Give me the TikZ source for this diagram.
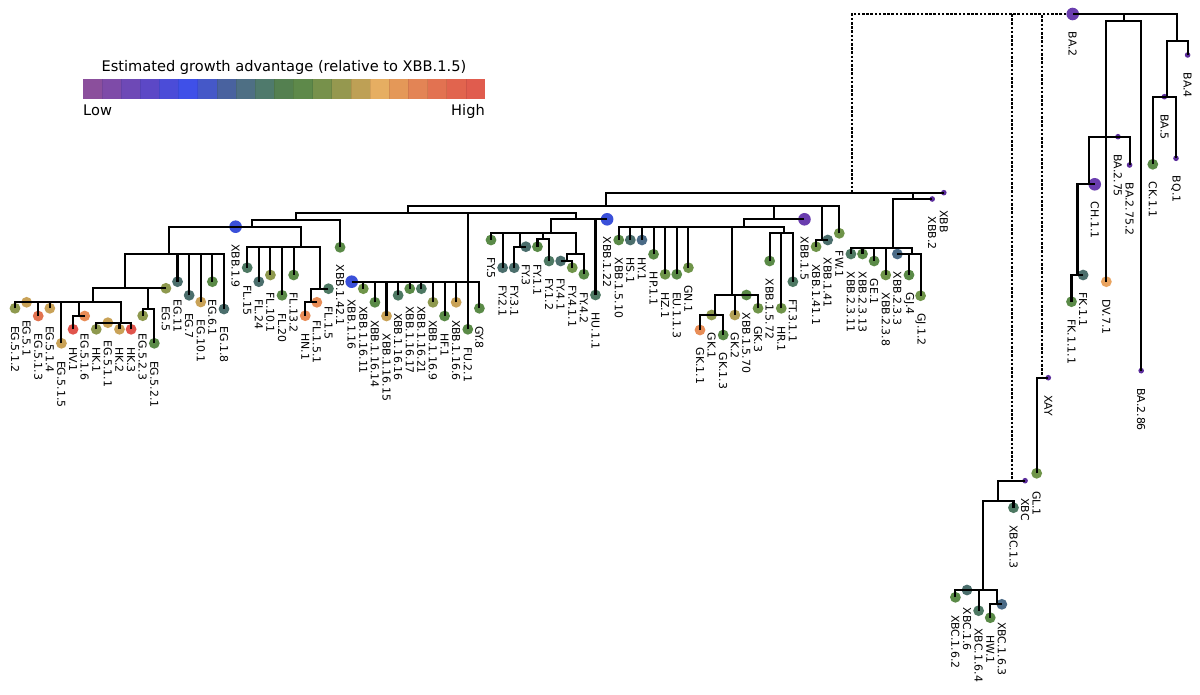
\documentclass[tikz,border=0pt]{standalone}
\usepackage{fontspec}
\setmainfont{DejaVu Sans}
\definecolor{cpurple}{HTML}{6A3DAF}
\definecolor{csmall}{HTML}{5B2D9B}
\definecolor{cblue}{HTML}{3A50D9}
\definecolor{cslate}{HTML}{4B6E6C}
\definecolor{cslateblue}{HTML}{4A6A86}
\definecolor{cslgreen}{HTML}{4D7862}
\definecolor{cgreen}{HTML}{5A8A47}
\definecolor{colgreen}{HTML}{6F9449}
\definecolor{colive}{HTML}{8E994E}
\definecolor{ctan}{HTML}{C9A257}
\definecolor{ctanol}{HTML}{B2A055}
\definecolor{corange}{HTML}{E88D57}
\definecolor{corangeb}{HTML}{E9A35F}
\definecolor{corred}{HTML}{E2734F}
\definecolor{cred}{HTML}{E0544C}
\definecolor{cbA}{HTML}{8B4F9C}
\definecolor{cbB}{HTML}{7E4BA8}
\definecolor{cbC}{HTML}{6E49B6}
\definecolor{cbD}{HTML}{5C48C6}
\definecolor{cbE}{HTML}{4B4CD8}
\definecolor{cbF}{HTML}{3F50E8}
\definecolor{cbG}{HTML}{4558C8}
\definecolor{cbH}{HTML}{49629F}
\definecolor{cbI}{HTML}{4E6F84}
\definecolor{cbJ}{HTML}{4F7A6C}
\definecolor{cbK}{HTML}{548050}
\definecolor{cbL}{HTML}{5E894A}
\definecolor{cbM}{HTML}{77914B}
\definecolor{cbN}{HTML}{95984F}
\definecolor{cbO}{HTML}{BEA055}
\definecolor{cbP}{HTML}{E6AE62}
\definecolor{cbQ}{HTML}{E49858}
\definecolor{cbR}{HTML}{E38455}
\definecolor{cbS}{HTML}{E27251}
\definecolor{cbT}{HTML}{E1644E}
\definecolor{cbU}{HTML}{E05C4E}
\newcommand{\leafnode}[6]{%
  \node[#5, fill=#4] (#1) at ({15+11.61*#2},#3) {};
  \node[lbl] (#1l) at ([yshift=-17.5pt]#1.center) {#6};}
\begin{document}
\begin{tikzpicture}[x=1pt,y=-1pt,
  edge/.style={line width=2.1pt, black, line join=miter},
  dotline/.style={line width=2.1pt, black, dash pattern=on 2.6pt off 1.6pt},
  dotn/.style={circle, draw=none, minimum size=10.8pt, inner sep=0pt},
  bigdot/.style={circle, draw=none, minimum size=12.6pt, inner sep=0pt},
  smalldot/.style={circle, draw=none, minimum size=5.6pt, inner sep=0pt},
  lbl/.style={rotate=-90, anchor=west, inner sep=0pt, font=\fontsize{10.9}{12}\selectfont},
  cbtext/.style={inner sep=0pt, font=\fontsize{14.6}{16}\selectfont}]
\useasboundingbox (0,0) rectangle (1200,695);
\fill[white] (0,0) rectangle (1200,695);

% ---- colour bar ----
\foreach \i/\c in {0/cbA,1/cbB,2/cbC,3/cbD,4/cbE,5/cbF,6/cbG,7/cbH,8/cbI,9/cbJ,10/cbK,11/cbL,12/cbM,13/cbN,14/cbO,15/cbP,16/cbQ,17/cbR,18/cbS,19/cbT,20/cbU}
  \fill[\c] ({82.7+19.157*\i},79.3) rectangle ({82.7+19.157*(\i+1)},99.3);
\foreach \i in {1,...,20}
  \draw[black, opacity=0.08, line width=0.6pt] ({82.7+19.157*\i},79.3) -- ({82.7+19.157*\i},99.3);
\node[cbtext, anchor=base] (title) at (283.9,71.7) {Estimated growth advantage (relative to XBB.1.5)};
\node[cbtext, anchor=base west] (low) at (83,116) {Low};
\node[cbtext, anchor=base east] (high) at (485,116) {High};

% ---- internal junctions ----
\coordinate (nP1) at (1124,20.7);
\coordinate (nBA275) at ({15+11.61*94},136.7);
\coordinate (nCH11) at (1089,184.3);
\coordinate (nFK11) at (1077.5,275);
\coordinate (nP2) at (1177.3,41);
\coordinate (nBA5) at (1166.7,96.7);
\coordinate (nXBB) at (851.7,192.7);
\coordinate (nXAY) at (1042.3,377.7);
\coordinate (nXBC) at (1011.7,480.7);
\coordinate (nXBC1) at (998.3,501);
\coordinate (nXBC16) at (982.7,590);
\coordinate (nXBC163) at (996.7,604.3);
\coordinate (nXBB2) at (913.3,199);
\coordinate (nXBB23) at (893.3,248.3);
\coordinate (nXBB233) at (912.3,254);
\coordinate (n206) at (605.7,206);
\coordinate (nXBB141) at (822.3,240);
\coordinate (nXBB15) at (774.3,219.3);
\coordinate (n227) at (744.3,226.7);
\coordinate (nGK) at (731.7,295);
\coordinate (nGK1) at (715,315);
\coordinate (nHR) at (784,233.3);
\coordinate (n213) at (408.3,213.3);
\coordinate (nXBB116) at ({15+11.61*39},281.7);
\coordinate (nXBB122) at (575.7,219.3);
\coordinate (nFY) at (550.7,233.3);
\coordinate (nFY3) at (520,246.7);
\coordinate (nFY1) at (543.3,239.3);
\coordinate (nFY4) at (575.7,254.3);
\coordinate (nFY41) at (566.7,261);
\coordinate (n220) at (296,220);
\coordinate (nXBB19) at (251.7,226.7);
\coordinate (nEG) at (169.3,254);
\coordinate (nEG5) at (125,288.3);
\coordinate (nEG52) at (148.3,309);
\coordinate (nEG51) at (92.7,302.3);
\coordinate (nEG516) at (79,316);
\coordinate (nEG511) at (120.7,322.7);
\coordinate (nFL) at (301,247.3);
\coordinate (nFL15) at (320,288.7);
\coordinate (nFL151) at (311,302.3);

% ---- dots and labels ----
\node[bigdot, fill=cpurple] (ba2) at (1072.7,14) {};
\node[lbl] (ba2l) at ([yshift=-17.5pt]ba2.center) {BA.2};
% EG
\leafnode{e512}{0}{308.3}{colive}{dotn}{EG.5.1.2}
\leafnode{e51}{1}{302.3}{ctan}{dotn}{EG.5.1}
\leafnode{e513}{2}{316}{corred}{dotn}{EG.5.1.3}
\leafnode{e514}{3}{308.3}{ctan}{dotn}{EG.5.1.4}
\leafnode{e515}{4}{343.3}{ctan}{dotn}{EG.5.1.5}
\leafnode{hv1}{5}{329.3}{cred}{dotn}{HV.1}
\leafnode{e516}{6}{316}{corange}{dotn}{EG.5.1.6}
\leafnode{hk1}{7}{329.3}{colive}{dotn}{HK.1}
\leafnode{e511}{8}{322.7}{ctan}{dotn}{EG.5.1.1}
\leafnode{hk2}{9}{329.3}{ctan}{dotn}{HK.2}
\leafnode{hk3}{10}{329.3}{cred}{dotn}{HK.3}
\leafnode{e523}{11}{315.7}{colive}{dotn}{EG.5.2.3}
\leafnode{e521}{12}{343.3}{cgreen}{dotn}{EG.5.2.1}
\leafnode{e5}{13}{288.3}{colive}{dotn}{EG.5}
\leafnode{e11}{14}{281.7}{cslate}{dotn}{EG.11}
\leafnode{e7}{15}{295.3}{cslate}{dotn}{EG.7}
\leafnode{e101}{16}{302}{ctan}{dotn}{EG.10.1}
\leafnode{e61}{17}{281.7}{cgreen}{dotn}{EG.6.1}
\leafnode{e18}{18}{309}{cslate}{dotn}{EG.1.8}
\leafnode{x119}{19}{226.7}{cblue}{bigdot}{XBB.1.9}
% FL
\leafnode{flA}{20}{267.7}{cslgreen}{dotn}{FL.15}
\leafnode{flB}{21}{281.7}{cslate}{dotn}{FL.24}
\leafnode{flC}{22}{275}{colive}{dotn}{FL.10.1}
\leafnode{flD}{23}{295.3}{cgreen}{dotn}{FL.20}
\leafnode{flE}{24}{275}{cgreen}{dotn}{FL.13.2}
\leafnode{hn1}{25}{315.7}{corange}{dotn}{HN.1}
\leafnode{flF}{26}{302.3}{corange}{dotn}{FL.1.5.1}
\leafnode{flG}{27}{288.7}{cslgreen}{dotn}{FL.1.5}
\leafnode{x1421}{28}{247.3}{cgreen}{dotn}{XBB.1.42.1}
% XBB.1.16
\leafnode{s0}{29}{281.7}{cblue}{bigdot}{XBB.1.16}
\leafnode{s11}{30}{288.7}{colgreen}{dotn}{XBB.1.16.11}
\leafnode{s14}{31}{302.3}{cgreen}{dotn}{XBB.1.16.14}
\leafnode{s15}{32}{316}{ctan}{dotn}{XBB.1.16.15}
\leafnode{s16}{33}{295.3}{cslgreen}{dotn}{XBB.1.16.16}
\leafnode{s17}{34}{288.7}{cgreen}{dotn}{XBB.1.16.17}
\leafnode{s21}{35}{288.7}{cslgreen}{dotn}{XBB.1.16.21}
\leafnode{s9}{36}{302.3}{colive}{dotn}{XBB.1.16.9}
\leafnode{hf1}{37}{316}{cgreen}{dotn}{HF.1}
\leafnode{s6}{38}{302.3}{ctan}{dotn}{XBB.1.16.6}
\leafnode{fu21}{39}{329.3}{cgreen}{dotn}{FU.2.1}
\leafnode{gy8}{40}{308.3}{cgreen}{dotn}{GY.8}
% FY
\leafnode{fy5}{41}{240}{cgreen}{dotn}{FY.5}
\leafnode{fy21}{42}{267.7}{cslate}{dotn}{FY.2.1}
\leafnode{fy31}{43}{267.7}{cslate}{dotn}{FY.3.1}
\leafnode{fy3}{44}{246.7}{cslate}{dotn}{FY.3}
\leafnode{fy11}{45}{246.7}{cgreen}{dotn}{FY.1.1}
\leafnode{fy12}{46}{261}{cslgreen}{dotn}{FY.1.2}
\leafnode{fy41}{47}{261}{cslate}{dotn}{FY.4.1}
\leafnode{fy411}{48}{267.7}{colgreen}{dotn}{FY.4.1.1}
\leafnode{fy42}{49}{274.3}{cgreen}{dotn}{FY.4.2}
\leafnode{hu11}{50}{295}{cslgreen}{dotn}{HU.1.1}
\leafnode{x122}{51}{219.3}{cblue}{bigdot}{XBB.1.22}
% XBB.1.5
\leafnode{t10}{52}{240}{cgreen}{dotn}{XBB.1.5.10}
\leafnode{hs1}{53}{240}{cslate}{dotn}{HS.1}
\leafnode{hy1}{54}{240}{cslateblue}{dotn}{HY.1}
\leafnode{hp11}{55}{254.3}{cgreen}{dotn}{HP.1.1}
\leafnode{hz1}{56}{274.3}{colgreen}{dotn}{HZ.1}
\leafnode{eu113}{57}{274.3}{cgreen}{dotn}{EU.1.1.3}
\leafnode{gn1}{58}{267.7}{colgreen}{dotn}{GN.1}
\leafnode{gk11}{59}{330}{corange}{dotn}{GK.1.1}
\leafnode{gk1}{60}{315}{colive}{dotn}{GK.1}
\leafnode{gk13}{61}{335}{cgreen}{dotn}{GK.1.3}
\leafnode{gk2}{62}{315}{ctanol}{dotn}{GK.2}
\leafnode{t70}{63}{295}{cgreen}{dotn}{XBB.1.5.70}
\leafnode{gk3}{64}{308.3}{colgreen}{dotn}{GK.3}
\leafnode{t72}{65}{261}{cgreen}{dotn}{XBB.1.5.72}
\leafnode{hr1}{66}{308.3}{colgreen}{dotn}{HR.1}
\leafnode{ft311}{67}{281.7}{cslgreen}{dotn}{FT.3.1.1}
\leafnode{x15}{68}{219.3}{cpurple}{bigdot}{XBB.1.5}
\leafnode{x1411}{69}{246.7}{colgreen}{dotn}{XBB.1.41.1}
\leafnode{x141}{70}{240}{cslate}{dotn}{XBB.1.41}
\leafnode{fw1}{71}{233.3}{colgreen}{dotn}{FW.1}
% XBB.2
\leafnode{u11}{72}{254}{cslgreen}{dotn}{XBB.2.3.11}
\leafnode{u13}{73}{254}{cgreen}{dotn}{XBB.2.3.13}
\leafnode{ge1}{74}{261}{cgreen}{dotn}{GE.1}
\leafnode{u8}{75}{275}{colgreen}{dotn}{XBB.2.3.8}
\leafnode{u3}{76}{254}{cslateblue}{dotn}{XBB.2.3.3}
\leafnode{gj4}{77}{275}{cgreen}{dotn}{GJ.4}
\leafnode{gj12}{78}{295.7}{colgreen}{dotn}{GJ.1.2}
\leafnode{xbb2}{79}{199}{csmall}{smalldot}{XBB.2}
\leafnode{xbb}{80}{192.7}{csmall}{smalldot}{XBB}
% XBC / XAY
\leafnode{c162}{81}{597.3}{cgreen}{dotn}{XBC.1.6.2}
\leafnode{c16}{82}{590}{cslate}{dotn}{XBC.1.6}
\leafnode{c164}{83}{610.7}{cslgreen}{dotn}{XBC.1.6.4}
\leafnode{hw1}{84}{617.7}{cgreen}{dotn}{HW.1}
\leafnode{c163}{85}{604.3}{cslateblue}{dotn}{XBC.1.6.3}
\leafnode{c13}{86}{507.7}{cslgreen}{dotn}{XBC.1.3}
\leafnode{xbc}{87}{480.7}{csmall}{smalldot}{XBC}
\leafnode{gl1}{88}{473.3}{colgreen}{dotn}{GL.1}
\leafnode{xay}{89}{377.7}{csmall}{smalldot}{XAY}
% BA.2 descendants
\leafnode{fk111}{91}{301.7}{cgreen}{dotn}{FK.1.1.1}
\leafnode{fk11}{92}{275}{cslate}{dotn}{FK.1.1}
\leafnode{ch11}{93}{184.3}{cpurple}{bigdot}{CH.1.1}
\leafnode{dv71}{94}{281.7}{corangeb}{dotn}{DV.7.1}
\leafnode{ba275}{95}{136.7}{csmall}{smalldot}{BA.2.75}
\leafnode{ba2752}{96}{165}{csmall}{smalldot}{BA.2.75.2}
\leafnode{ba286}{97}{370.7}{csmall}{smalldot}{BA.2.86}
\leafnode{ck11}{98}{164.3}{cgreen}{dotn}{CK.1.1}
\leafnode{ba5}{99}{96.7}{csmall}{smalldot}{BA.5}
\leafnode{bq1}{100}{158.3}{csmall}{smalldot}{BQ.1}
\leafnode{ba4}{101}{55}{csmall}{smalldot}{BA.4}

% ---- dotted recombinant links ----
\draw[dotline] (ba2) -| (nXBB.center);
\draw[dotline] (ba2) -| (nXBC.center);
\draw[dotline] (ba2) -| (nXAY.center);

% ---- tree edges (child / parent) ----
\foreach \c/\p in {
  nP1/ba2, nP2/ba2,
  nBA275/nP1, ba286/nP1,
  nCH11/nBA275, ba275/nBA275, ba2752/nBA275, dv71/nBA275,
  ch11/nCH11, nFK11/nCH11, fk11/nFK11, fk111/nFK11,
  ba4/nP2, nBA5/nP2, ba5/nBA5, ck11/nBA5, bq1/nBA5,
  xay/nXAY, gl1/nXAY,
  xbc/nXBC, nXBC1/nXBC, c13/nXBC1, nXBC16/nXBC1,
  c162/nXBC16, c16/nXBC16, c164/nXBC16, nXBC163/nXBC16,
  c163/nXBC163, hw1/nXBC163,
  xbb/nXBB, nXBB2/nXBB, n206/nXBB,
  xbb2/nXBB2, nXBB23/nXBB2,
  u11/nXBB23, u13/nXBB23, ge1/nXBB23, u8/nXBB23, nXBB233/nXBB23,
  u3/nXBB233, gj4/nXBB233, gj12/nXBB233,
  n213/n206, nXBB15/n206, nXBB141/n206, fw1/n206,
  x141/nXBB141, x1411/nXBB141,
  x15/nXBB15, n227/nXBB15,
  t10/n227, hs1/n227, hy1/n227, hp11/n227, hz1/n227, eu113/n227, gn1/n227, nGK/n227, nHR/n227,
  nGK1/nGK, gk2/nGK, t70/nGK, gk3/nGK,
  gk11/nGK1, gk1/nGK1, gk13/nGK1,
  t72/nHR, hr1/nHR, ft311/nHR,
  n220/n213, nXBB116/n213, nXBB122/n213,
  s0/nXBB116, s11/nXBB116, s14/nXBB116, s15/nXBB116, s16/nXBB116, s17/nXBB116,
  s21/nXBB116, s9/nXBB116, hf1/nXBB116, s6/nXBB116, fu21/nXBB116, gy8/nXBB116,
  x122/nXBB122, hu11/nXBB122, nFY/nXBB122,
  fy5/nFY, fy21/nFY, nFY3/nFY, nFY1/nFY, nFY4/nFY,
  fy31/nFY3, fy3/nFY3, fy11/nFY1, fy12/nFY1,
  nFY41/nFY4, fy42/nFY4, fy41/nFY41, fy411/nFY41,
  nXBB19/n220, x1421/n220,
  x119/nXBB19, nEG/nXBB19, nFL/nXBB19,
  e11/nEG, e7/nEG, e101/nEG, e61/nEG, e18/nEG, nEG5/nEG,
  e5/nEG5, nEG52/nEG5, nEG51/nEG5,
  e523/nEG52, e521/nEG52,
  e512/nEG51, e51/nEG51, e513/nEG51, e514/nEG51, e515/nEG51, nEG516/nEG51, nEG511/nEG51,
  hv1/nEG516, e516/nEG516,
  hk1/nEG511, e511/nEG511, hk2/nEG511, hk3/nEG511,
  flA/nFL, flB/nFL, flC/nFL, flD/nFL, flE/nFL, nFL15/nFL,
  flG/nFL15, nFL151/nFL15, flF/nFL151, hn1/nFL151}
  \draw[edge] (\c.center) |- (\p.center);
\end{tikzpicture}
\end{document}
